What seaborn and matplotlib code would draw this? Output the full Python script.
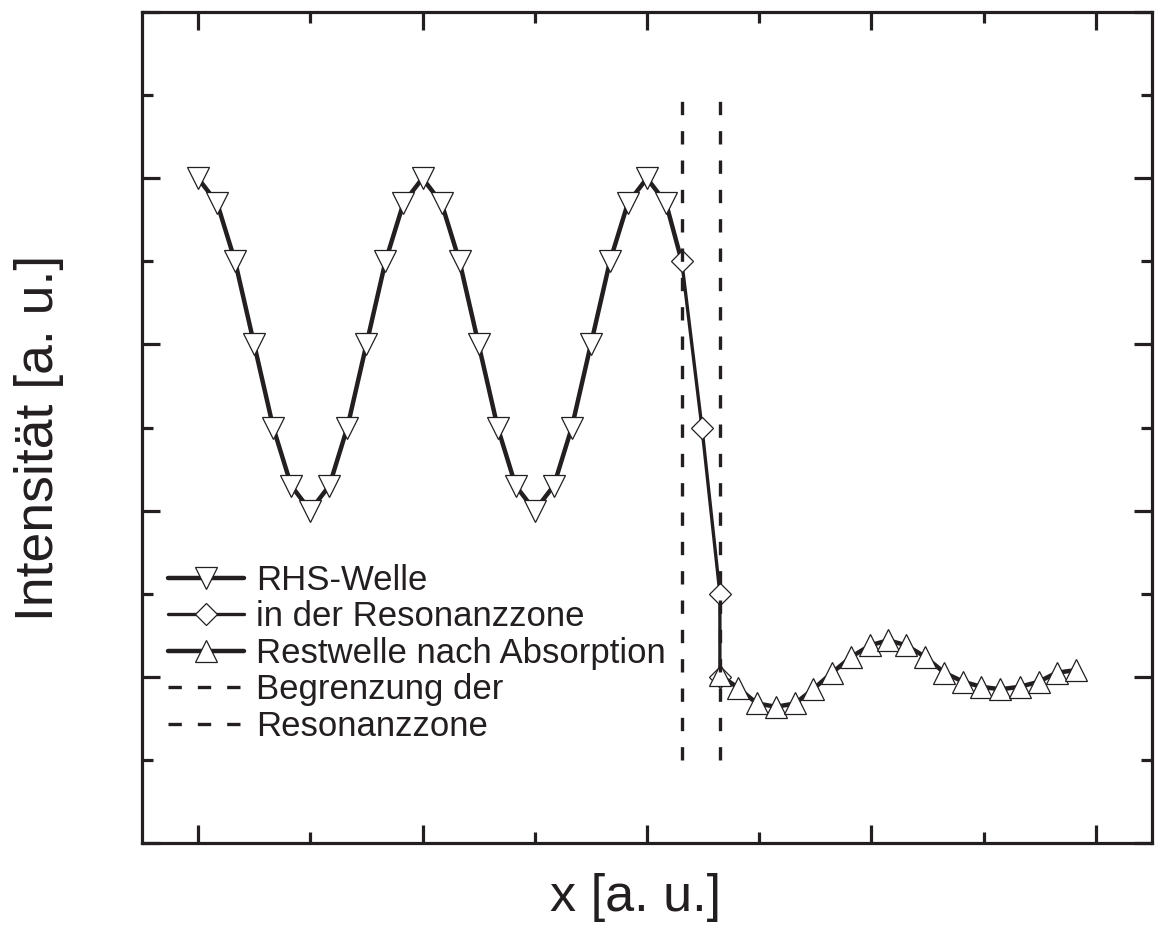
import matplotlib
matplotlib.use("Agg")
import matplotlib.pyplot as plt
from matplotlib.ticker import MultipleLocator
import seaborn as sns

# RHS wave (down triangles), last point joins the resonance zone without marker
rhs_x = [0.00, 0.17, 0.33, 0.50, 0.67, 0.83, 1.00, 1.17, 1.33, 1.50, 1.67, 1.83,
         2.00, 2.17, 2.33, 2.50, 2.67, 2.83, 3.00, 3.17, 3.33, 3.50, 3.67, 3.83,
         4.00, 4.17, 4.31]
rhs_y = [0.80, 0.77, 0.70, 0.60, 0.50, 0.43, 0.40, 0.43, 0.50, 0.60, 0.70, 0.77,
         0.80, 0.77, 0.70, 0.60, 0.50, 0.43, 0.40, 0.43, 0.50, 0.60, 0.70, 0.77,
         0.80, 0.77, 0.70]

# inside the resonance zone (diamonds)
zone_x = [4.31, 4.49, 4.65, 4.65]
zone_y = [0.70, 0.50, 0.30, 0.20]

# remaining wave after absorption (up triangles)
rest_x = [4.65, 4.81, 4.98, 5.15, 5.32, 5.48, 5.65, 5.82, 5.99, 6.15,
          6.31, 6.48, 6.65, 6.82, 6.98, 7.15, 7.32, 7.49, 7.65, 7.82]
rest_y = [0.202, 0.187, 0.168, 0.164, 0.168, 0.185, 0.205, 0.224, 0.238, 0.244,
          0.238, 0.224, 0.205, 0.194, 0.188, 0.185, 0.188, 0.194, 0.205, 0.208]

# borders of the resonance zone
border_x = [4.31, 4.65]
border_y = [0.1, 0.9]
border_labels = ["Begrenzung der", "Resonanzzone"]

ink = "#231f20"

sns.set_style("ticks")
plt.rcParams["font.family"] = ["Liberation Sans", "DejaVu Sans"]

fig = plt.figure(figsize=(11.56, 9.25), dpi=100)
ax = fig.add_axes([0.1228, 0.0886, 0.8737, 0.8984])

sns.lineplot(x=rhs_x, y=rhs_y, ax=ax, sort=False, estimator=None,
             color=ink, lw=3.2, marker="v", ms=16, mfc="white", mec=ink, mew=0.9,
             markevery=list(range(len(rhs_x) - 1)), label="RHS-Welle")
sns.lineplot(x=zone_x, y=zone_y, ax=ax, sort=False, estimator=None,
             color=ink, lw=2.4, marker="D", ms=11, mfc="white", mec=ink, mew=0.9,
             label="in der Resonanzzone")
sns.lineplot(x=rest_x, y=rest_y, ax=ax, sort=False, estimator=None,
             color=ink, lw=3.2, marker="^", ms=16, mfc="white", mec=ink, mew=0.9,
             label="Restwelle nach Absorption")

for xv, lab in zip(border_x, border_labels):
    ax.plot([xv, xv], border_y, color=ink, lw=2.4, dashes=(4.0, 4.8), label=lab)

ax.set_xlim(-0.5, 8.5)
ax.set_ylim(0, 1)
ax.xaxis.set_major_locator(MultipleLocator(2))
ax.xaxis.set_minor_locator(MultipleLocator(1))
ax.yaxis.set_major_locator(MultipleLocator(0.2))
ax.yaxis.set_minor_locator(MultipleLocator(0.1))
ax.tick_params(which="both", direction="in", top=True, right=True,
               labelbottom=False, labelleft=False, color=ink, width=2.3)
ax.tick_params(which="major", length=13)
ax.tick_params(which="minor", length=8)
for sp in ax.spines.values():
    sp.set_linewidth(2.3)
    sp.set_color(ink)

ax.set_xlabel("x [a. u.]", fontsize=37.5, color=ink)
ax.set_ylabel("Intensität [a. u.]", fontsize=38.5, color=ink)
ax.xaxis.set_label_coords(0.489, -0.036)
ax.yaxis.set_label_coords(-0.077, 0.487)

leg = ax.legend(loc="upper left", bbox_to_anchor=(0.0257, 0.336), frameon=False,
                fontsize=25, borderpad=0, borderaxespad=0, labelspacing=0.1,
                handlelength=2.2, handletextpad=0.35, numpoints=1)
for t in leg.get_texts():
    t.set_color(ink)

fig.savefig("out.png", dpi=100)
